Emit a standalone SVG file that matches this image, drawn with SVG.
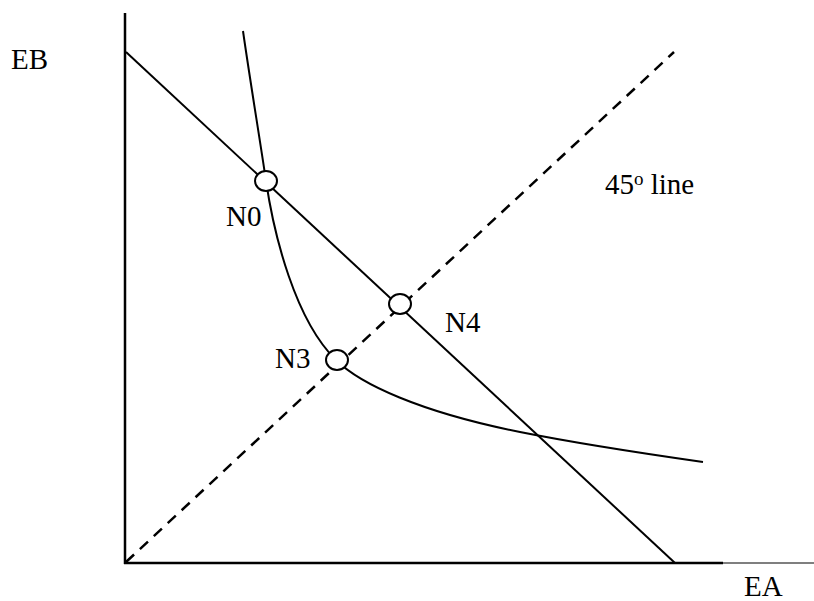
<svg xmlns="http://www.w3.org/2000/svg" width="814" height="601" viewBox="0 0 814 601">
<style>
.ln{fill:none;stroke:#000;stroke-width:2;stroke-linecap:butt}
.ax{fill:none;stroke:#000;stroke-width:2.5}
.dash{fill:none;stroke:#000;stroke-width:2.5;stroke-dasharray:11 8}
.pt{fill:#fff;stroke:#000;stroke-width:2}
.t{font-family:"Liberation Serif","Times New Roman",serif;font-size:29px;fill:#000}
</style>
<rect width="814" height="601" fill="#fff"/>
<g id="connectors">
<path class="dash" d="M126,562 L674,52"/>
<path class="ln" d="M126,52 L675,563"/>
<path class="ln" d="M243,31 C250,80 260,140 266,181 C274,235 295,320 336,360 C360,384 420,412 520,432 C570,442 640,453 703,462"/>
</g>
<g id="axes">
<path class="ax" d="M125,13 L125,564"/>
<path class="ax" d="M124,563 L723,563"/>
<path class="ln" d="M723,563 L814,563" style="stroke-width:1.2"/>
</g>
<g id="N0"><ellipse class="pt" cx="266" cy="181" rx="11" ry="10"/><text class="t" x="226" y="226">N0</text></g>
<g id="N3"><ellipse class="pt" cx="337" cy="360" rx="11" ry="10"/><text class="t" x="275" y="368">N3</text></g>
<g id="N4"><ellipse class="pt" cx="400" cy="304" rx="11" ry="10"/><text class="t" x="445" y="332">N4</text></g>
<g id="labels">
<text class="t" x="11" y="69">EB</text>
<text class="t" x="744" y="596">EA</text>
<text class="t" x="605" y="194">45<tspan font-size="19" dy="-9">o</tspan><tspan dy="9"> line</tspan></text>
</g>
</svg>
